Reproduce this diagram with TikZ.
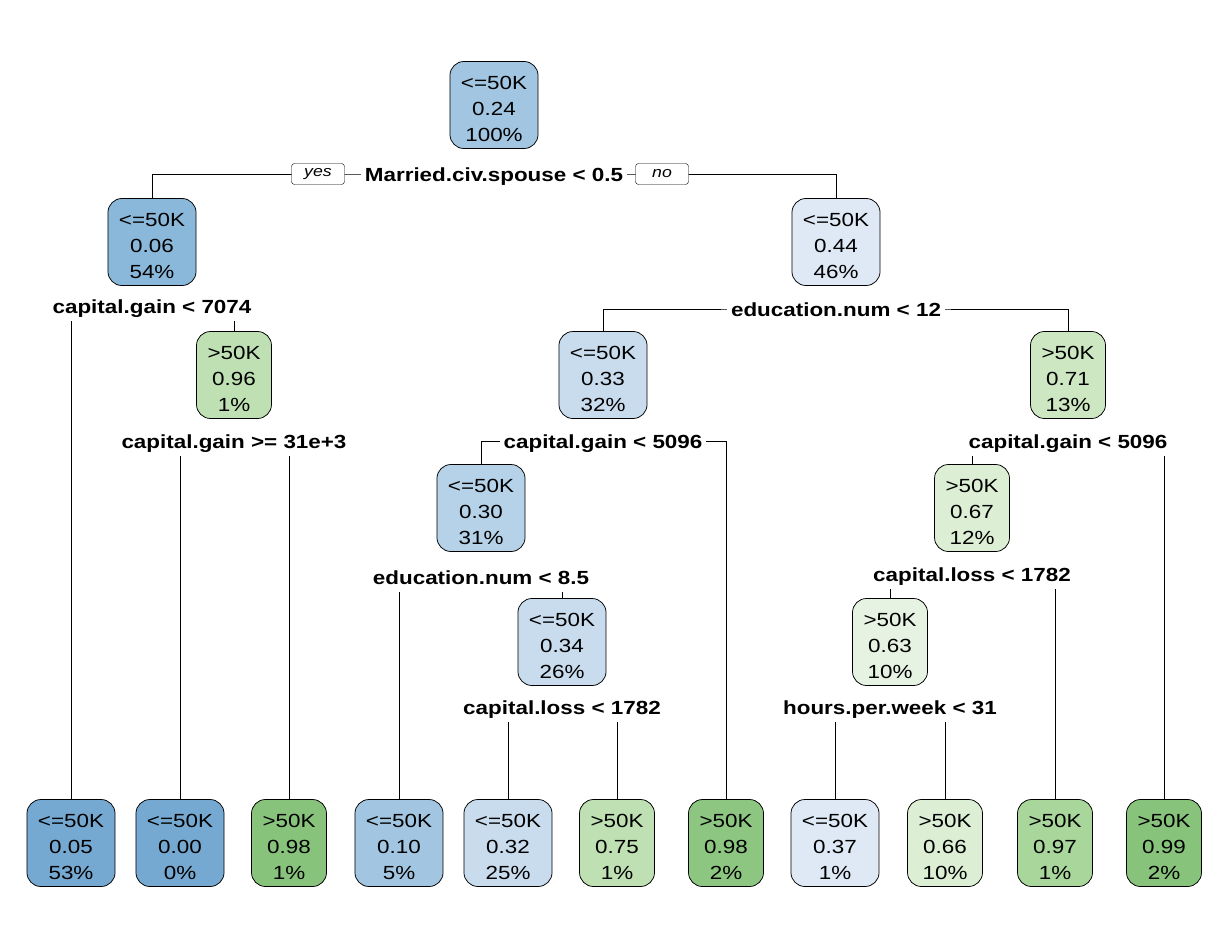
\documentclass[tikz,border=0pt]{standalone}
\usepackage{fontspec}
\setmainfont{Liberation Sans}[FakeStretch=1.18]
\usetikzlibrary{backgrounds}

% Box colours (blue: <=50K, green: >50K)
\definecolor{bu0}{RGB}{117,169,209}
\definecolor{bu1}{RGB}{138,184,218}
\definecolor{bu2}{RGB}{162,198,225}
\definecolor{bu3}{RGB}{181,210,232}
\definecolor{bu4}{RGB}{201,220,238}
\definecolor{bu5}{RGB}{222,233,245}
\definecolor{gn5}{RGB}{231,243,226}
\definecolor{gn4}{RGB}{220,239,213}
\definecolor{gn3}{RGB}{204,231,194}
\definecolor{gn2}{RGB}{190,224,178}
\definecolor{gn1}{RGB}{168,214,155}
\definecolor{gn0}{RGB}{136,195,124}

% three text lines of a box
\newcommand{\boxtext}[3]{\rule{0pt}{22pt}#1\\#2\\#3}

\tikzset{
  box/.style={draw, line width=0.75pt, rounded corners=14pt, align=center,
    font=\fontsize{19}{26}\selectfont, inner xsep=11pt, minimum height=87pt},
  split/.style={fill=white, font=\fontsize{19}{22}\selectfont\bfseries,
    text height=19pt, text depth=4pt, inner xsep=4pt, inner ysep=3.5pt},
  tag/.style={draw, fill=white, rounded corners=3pt, inner sep=0pt,
    font=\fontsize{15}{17}\selectfont\itshape, minimum width=53pt, minimum height=21pt},
  branch/.style={line width=0.75pt}
}

\begin{document}
\begin{tikzpicture}[x=1pt,y=-1pt]
  \useasboundingbox (0,0) rectangle (1222,926);

  % Inner nodes
  \node[box, fill=bu2] (n1) at (494,105) {\boxtext{<=50K}{0.24}{100\%}};
  \node[box, fill=bu1] (n2) at (152,242) {\boxtext{<=50K}{0.06}{54\%}};
  \node[box, fill=bu5] (n3) at (836,242) {\boxtext{<=50K}{0.44}{46\%}};
  \node[box, fill=gn2] (n5) at (234,375) {\boxtext{>50K}{0.96}{1\%}};
  \node[box, fill=bu4] (n6) at (603,375) {\boxtext{<=50K}{0.33}{32\%}};
  \node[box, fill=gn3] (n7) at (1068,375) {\boxtext{>50K}{0.71}{13\%}};
  \node[box, fill=bu3] (n12) at (481,508) {\boxtext{<=50K}{0.30}{31\%}};
  \node[box, fill=gn4] (n14) at (972,508) {\boxtext{>50K}{0.67}{12\%}};
  \node[box, fill=bu4] (n25) at (562,642) {\boxtext{<=50K}{0.34}{26\%}};
  \node[box, fill=gn5] (n28) at (890,642) {\boxtext{>50K}{0.63}{10\%}};

  % Leaves
  \foreach \x/\nm/\cls/\p/\pct/\col in {71/n4/<=50K/0.05/53/bu0, 180/n10/<=50K/0.00/0/bu0,
      289/n11/>50K/0.98/1/gn0, 399/n24/<=50K/0.10/5/bu2, 508/n50/<=50K/0.32/25/bu4,
      617/n51/>50K/0.75/1/gn2, 726/n13/>50K/0.98/2/gn0!85!gn1, 835/n56/<=50K/0.37/1/bu5,
      945/n57/>50K/0.66/10/gn4, 1055/n29/>50K/0.97/1/gn1, 1164/n15/>50K/0.99/2/gn0} {
    \node[box, fill=\col] (\nm) at (\x,843) {\boxtext{\cls}{\p}{\pct\%}};
  }

  % Split labels
  \node[split] (s1) at (494,174) {Married.civ.spouse < 0.5};
  \node[split] (s2) at (152,306) {capital.gain < 7074};
  \node[split] (s5) at (234,441) {capital.gain >= 31e+3};
  \node[split] (s3) at (836,309) {education.num < 12};
  \node[split] (s6) at (603,441) {capital.gain < 5096};
  \node[split] (s12) at (481,577) {education.num < 8.5};
  \node[split] (s25) at (562,707) {capital.loss < 1782};
  \node[split] (s7) at (1068,441) {capital.gain < 5096};
  \node[split] (s14) at (972,574) {capital.loss < 1782};
  \node[split] (s28) at (890,707) {hours.per.week < 31};

  % Branches
  \begin{scope}[on background layer]
    \foreach \s/\a/\b in {s1/n2/n3, s2/n4/n5, s5/n10/n11, s3/n6/n7, s6/n12/n13,
        s12/n24/n25, s25/n50/n51, s7/n14/n15, s14/n28/n29, s28/n56/n57} {
      \draw[branch] (\a.north) |- (\s.center) -| (\b.north);
    }
  \end{scope}

  % yes / no tags
  \node[tag] (yes) at (318,174) {yes};
  \node[tag] (no) at (662,174) {no};

\end{tikzpicture}
\end{document}
